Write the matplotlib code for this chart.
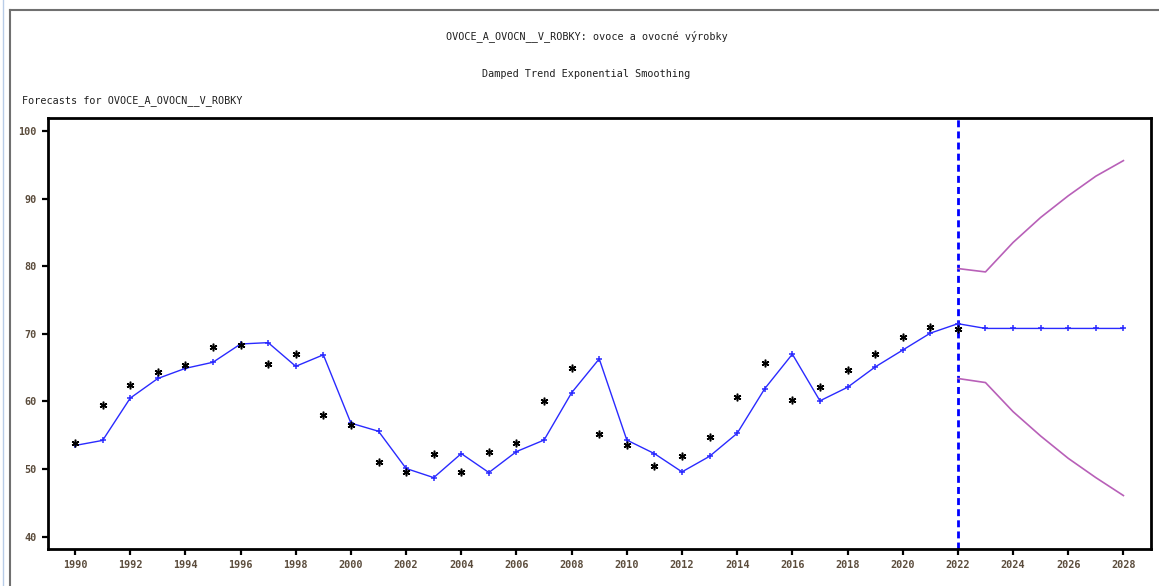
# -*- coding: utf-8 -*-
# forecast plot, damped trend exponential smoothing
import matplotlib
matplotlib.use('Agg')
import matplotlib.pyplot as plt
from matplotlib.lines import Line2D

# observed values (stars)
years = list(range(1990, 2023))
actual = [53.8, 59.5, 62.4, 64.3, 65.4, 68.1, 68.3, 65.6, 67.0, 58.0,
          56.5, 51.1, 49.6, 52.2, 49.6, 52.5, 53.8, 60.1, 64.9, 55.2,
          53.5, 50.5, 52.0, 54.7, 60.7, 65.7, 60.2, 62.2, 64.6, 67.0,
          69.55, 71.0, 70.7]

# fitted + forecast line
fit_years = list(range(1990, 2029))
fitted = [53.5, 54.25, 60.5, 63.4, 64.9, 65.8, 68.5, 68.7, 65.2, 66.9,
          56.8, 55.6, 50.1, 48.75, 52.3, 49.5, 52.6, 54.3, 61.3, 66.3,
          54.3, 52.3, 49.6, 51.9, 55.3, 61.9, 67.0, 60.1, 62.1, 65.1,
          67.6, 70.1, 71.5, 70.8, 70.8, 70.8, 70.8, 70.8, 70.8]

# confidence band
band_years = list(range(2022, 2029))
upper = [79.65, 79.15, 83.5, 87.2, 90.4, 93.3, 95.6]
lower = [63.4, 62.8, 58.5, 54.9, 51.6, 48.75, 46.1]

x_ticks = list(range(1990, 2029, 2))
y_ticks = [40, 50, 60, 70, 80, 90, 100]
forecast_start = 2022

title = 'OVOCE_A_OVOCN__V_ROBKY: ovoce a ovocné výrobky'
subtitle = 'Damped Trend Exponential Smoothing'
header = 'Forecasts for OVOCE_A_OVOCN__V_ROBKY'

W, H = 1159, 586
mono = 'DejaVu Sans Mono'
label_color = '#5b4c3c'

fig = plt.figure(figsize=(W / 100, H / 100), dpi=100)
fig.patch.set_facecolor('white')

# window frame lines
fig.add_artist(Line2D([3 / W, 3 / W], [0, 1], color='#b8cce8', lw=1))
fig.add_artist(Line2D([10 / W, 10 / W], [0, 1 - 10 / H], color='#707070', lw=1.5))
fig.add_artist(Line2D([10 / W, 1], [1 - 10 / H, 1 - 10 / H], color='#707070', lw=1.5))

fig.text(587 / W, 1 - 36 / H, title, ha='center', va='center',
         family=mono, fontsize=7.3, color='#202020')
fig.text(586 / W, 1 - 74 / H, subtitle, ha='center', va='center',
         family=mono, fontsize=7.3, color='#202020')
fig.text(22 / W, 1 - 101 / H, header, ha='left', va='center',
         family=mono, fontsize=7.3, color='#202020')

left, right = 48 / W, 1151 / W
bottom, top = (H - 549) / H, (H - 118) / H
ax = fig.add_axes([left, bottom, right - left, top - bottom])

ax.axvline(forecast_start, color='#0000ff', lw=2, dashes=(2.5, 1.5), zorder=1)
ax.plot(band_years, upper, color='#b860b8', lw=1.2, zorder=2)
ax.plot(band_years, lower, color='#b860b8', lw=1.2, zorder=2)
ax.plot(fit_years, fitted, color='#2a2aff', lw=1, marker='+', ms=4.5,
        mew=1.1, zorder=3)
ax.plot(years, actual, ls='none', marker=(6, 2, 0), ms=5.5, mew=1.1,
        color='black', zorder=4)

ax.set_xlim(1989.02, 2029.0)
ax.set_ylim(38.2, 101.9)
ax.set_xticks(x_ticks)
ax.set_yticks(y_ticks)
ax.set_xticklabels([str(v) for v in x_ticks])
ax.set_yticklabels([str(v) for v in y_ticks])

for sp in ax.spines.values():
    sp.set_linewidth(2)
    sp.set_color('black')
ax.tick_params(direction='out', length=4, width=1.6, color='black',
               labelcolor=label_color, labelsize=7.3, pad=4)
for lab in ax.get_xticklabels() + ax.get_yticklabels():
    lab.set_family(mono)
    lab.set_fontweight('bold')

fig.savefig('out.png', dpi=100, facecolor='white')
